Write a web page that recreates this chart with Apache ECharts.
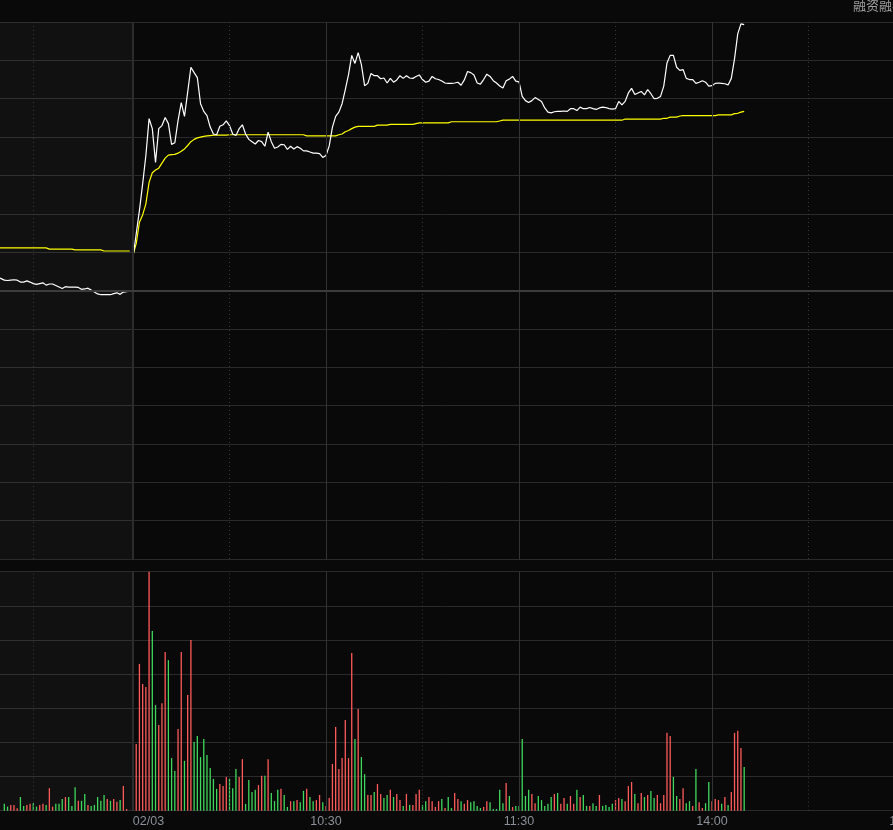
<!DOCTYPE html>
<html><head><meta charset="utf-8">
<script src="https://cdn.jsdelivr.net/npm/echarts@6/dist/echarts.min.js"></script>
<style>html,body{margin:0;padding:0;background:#0a0a0a;}#c{width:893px;height:830px;}</style>
</head><body><div id="c"></div>
<script>
// ---- data (price in % vs previous close, volume in arbitrary lots) ----
const prevPrice = [0.35,0.31,0.27,0.26,0.27,0.28,0.27,0.22,0.22,0.25,0.22,0.18,0.16,0.18,0.20,0.14,0.17,0.17,0.13,0.09,0.05,0.10,0.09,0.09,0.09,0.08,0.03,0.04,0.06,0.01,-0.04,-0.09,-0.11,-0.11,-0.11,-0.11,-0.08,-0.06,-0.10,-0.04,-0.03,-0.01];
const prevAvg = [1.11,1.11,1.11,1.11,1.11,1.11,1.11,1.11,1.11,1.11,1.11,1.11,1.11,1.11,1.11,1.11,1.08,1.08,1.08,1.08,1.08,1.08,1.08,1.08,1.06,1.06,1.06,1.06,1.06,1.06,1.06,1.06,1.06,1.03,1.03,1.03,1.03,1.03,1.03,1.03,1.03,1.03];
const prevVol = [0,0,20,12,17,17,7,40,14,17,20,22,12,17,20,17,66,12,20,20,34,40,40,14,69,29,29,49,17,14,17,40,29,46,34,29,34,26,31,72,5,0];
const prevDir = '..ggrrrggrrggrrgrrgggrgggrggrgggggrgrrgrr.';

const todayPrice = [
0.87,1.48,2.09,2.78,3.52,4.48,4.22,3.34,4.22,4.30,
4.51,4.35,3.81,3.85,4.43,4.90,4.54,5.17,5.82,5.68,
5.55,4.87,4.67,4.56,4.26,4.08,4.06,4.28,4.32,4.42,
4.30,4.08,4.04,4.22,4.32,4.08,3.94,3.88,3.82,3.91,
3.88,3.76,4.13,3.88,3.71,3.74,3.81,3.80,3.68,3.76,
3.69,3.75,3.71,3.64,3.64,3.61,3.58,3.58,3.57,3.47,
3.52,3.77,4.26,4.54,4.65,4.87,5.24,5.63,6.13,5.92,
6.20,5.89,5.34,5.40,5.66,5.60,5.60,5.52,5.54,5.41,
5.53,5.43,5.49,5.60,5.53,5.60,5.54,5.53,5.58,5.62,
5.50,5.43,5.46,5.58,5.52,5.50,5.46,5.41,5.40,5.40,
5.41,5.43,5.35,5.49,5.71,5.68,5.62,5.41,5.38,5.50,
5.64,5.58,5.47,5.41,5.33,5.28,5.47,5.51,5.58,5.46,
5.44,5.06,4.95,4.90,4.95,5.03,4.98,4.93,4.76,4.65,
4.63,4.66,4.67,4.67,4.68,4.67,4.74,4.74,4.69,4.78,
4.74,4.74,4.77,4.74,4.72,4.76,4.78,4.77,4.74,4.73,
4.74,4.93,4.84,4.93,5.15,5.27,5.11,5.15,5.19,5.10,
5.24,5.13,5.00,5.01,5.06,5.33,5.93,6.13,6.13,5.82,
5.74,5.76,5.53,5.50,5.50,5.40,5.43,5.47,5.43,5.33,
5.34,5.40,5.41,5.40,5.39,5.36,5.53,6.04,6.69,6.95,
6.93];
const todayAvg = [
0.93,1.22,1.78,1.97,2.26,2.82,3.07,3.14,3.19,3.32,
3.45,3.53,3.54,3.55,3.58,3.63,3.69,3.78,3.88,3.94,
3.98,4.00,4.02,4.03,4.04,4.05,4.05,4.05,4.05,4.05,
4.06,4.06,4.06,4.06,4.06,4.06,4.06,4.06,4.06,4.06,
4.06,4.06,4.06,4.06,4.06,4.06,4.06,4.06,4.06,4.06,
4.06,4.06,4.06,4.06,4.03,4.03,4.03,4.03,4.03,4.03,
4.03,4.03,4.03,4.03,4.06,4.08,4.14,4.17,4.22,4.26,
4.28,4.28,4.28,4.28,4.28,4.28,4.31,4.31,4.31,4.31,
4.33,4.33,4.33,4.33,4.33,4.33,4.33,4.33,4.35,4.37,
4.37,4.37,4.37,4.37,4.37,4.37,4.37,4.37,4.37,4.40,
4.40,4.40,4.40,4.40,4.40,4.40,4.40,4.40,4.40,4.40,
4.40,4.40,4.40,4.40,4.42,4.44,4.44,4.44,4.44,4.44,
4.44,4.44,4.44,4.44,4.44,4.44,4.44,4.44,4.44,4.44,
4.44,4.44,4.44,4.44,4.44,4.44,4.44,4.44,4.44,4.44,
4.44,4.44,4.44,4.44,4.44,4.44,4.44,4.44,4.44,4.44,
4.44,4.44,4.44,4.47,4.47,4.47,4.47,4.47,4.47,4.47,
4.47,4.47,4.47,4.47,4.47,4.49,4.49,4.52,4.52,4.52,
4.55,4.56,4.56,4.56,4.56,4.56,4.56,4.56,4.56,4.56,
4.56,4.56,4.58,4.58,4.58,4.58,4.58,4.61,4.62,4.65,
4.67];
const todayVol = [
43,195,430,371,362,700,526,309,251,315,
465,441,154,116,239,465,146,339,500,201,
219,157,210,163,125,93,64,78,72,99,
93,66,122,99,151,20,90,55,61,75,
102,102,151,52,28,61,64,46,11,28,
28,31,25,58,64,40,28,31,46,25,
14,37,137,245,122,154,266,154,462,210,
298,157,107,46,46,55,78,49,37,46,
61,40,49,31,14,49,17,17,49,61,
17,28,40,28,11,28,34,8,40,8,
52,34,28,20,31,25,28,14,8,11,
28,25,5,5,61,22,81,43,11,14,
14,210,43,61,49,22,43,31,14,20,
40,49,52,20,37,20,43,20,61,40,
46,14,14,22,14,46,14,17,11,20,
31,37,34,28,72,84,49,22,52,40,
46,58,37,46,22,46,228,219,99,43,
34,66,22,28,14,122,25,8,22,84,
28,34,31,20,40,17,55,228,234,184,
128];
const todayDir =
'rrrrrrggrr' + 'rgggrrgrrg' + 'gggggggrrr' + 'gggrrggggr' + 'rgrgggrggr' +
'grggrggrrg' + 'rrrrrrrrrg' + 'rggrrgrrgg' + 'rgrrgrgrrr' + 'ggrrrrgrgg' +
'rrgrrggggr' + 'rgggggrgrg' + 'ggggrrgggg' + 'grgrrgrrgr' + 'ggrggrgggg' +
'rrgrrrgrrg' + 'rggrrrrrgg' + 'rrggrgrrgg' + 'rrrgrgrrrr' + 'g';

// tick labels on the time axis
const tickTimes  = ['09:30', '10:30', '11:30', '14:00', '15:00'];
const tickLabels = ['02/03', '10:30', '11:30', '14:00', '15:00'];
const solidTimes  = ['09:30', '10:30', '11:30', '14:00', '15:00'];
const dottedTimes = ['02/02 14:30', '10:00', '11:00', '13:30', '14:30'];

// ---- category axis: last minutes of previous session + full today session ----
function hm(t){ const h = Math.floor(t/60), m = t%60; return (h<10?'0':'')+h+':'+(m<10?'0':'')+m; }
const cats = [];
for (let t = 15*60 - prevPrice.length + 1; t <= 15*60; t++) cats.push('02/02 ' + hm(t));
for (let t = 9*60+30; t <= 11*60+30; t++) cats.push(hm(t));
for (let t = 13*60+1; t <= 15*60; t++) cats.push(hm(t));
const N = cats.length, P = prevPrice.length;
const pad = n => Array(n).fill('-');

const sPrevPrice = prevPrice.concat(pad(N - P));
const sPrevAvg   = prevAvg.concat(pad(N - P));
const sTodayPrice = pad(P).concat(todayPrice, pad(N - P - todayPrice.length));
const sTodayAvg   = pad(P).concat(todayAvg, pad(N - P - todayAvg.length));
const vol = prevVol.concat(todayVol, pad(N - P - todayVol.length));
const dir = (prevDir + todayDir).split('');

const RED = '#ff5a5a', GREEN = '#3fd85c';
const minutePx = 3.2167;
const gridLeft = 133 - (P + 0.5) * minutePx;
const gridWidth = N * minutePx;

const labelMap = {};
tickTimes.forEach((t, i) => labelMap[t] = tickLabels[i]);

const vLines = solidTimes.map(t => ({xAxis: t, lineStyle: {color: t === '09:30' ? '#2c2c2c' : '#333', width: t === '09:30' ? 2 : 1, type: 'solid'}}))
  .concat(dottedTimes.map(t => ({xAxis: t, lineStyle: {color: '#3a3a3a', width: 1, type: [1, 3]}})));
const prevArea = [[{xAxis: cats[0]}, {xAxis: '09:30'}]];

const axisBase = {type: 'category', data: cats, boundaryGap: true, axisLine: {show: false}, axisTick: {show: false}, splitLine: {show: false}};
const yBase = {axisLine: {show: false}, axisTick: {show: false}, axisLabel: {show: false}, splitLine: {show: true, lineStyle: {color: '#2a2a2a', width: 1}}};

const chart = echarts.init(document.getElementById('c'), null, {renderer: 'canvas'});
chart.setOption({
  backgroundColor: '#090909',
  animation: false,
  title: {text: '融资融券', left: 853, top: -1, padding: 0, textStyle: {color: '#a0a0a0', fontSize: 13, fontWeight: 'normal', fontFamily: 'Noto Sans CJK SC'}},
  grid: [
    {left: gridLeft, width: gridWidth, top: 22, height: 537, containLabel: false, outerBoundsMode: 'none'},
    {left: gridLeft, width: gridWidth, top: 571.7, height: 239, containLabel: false, outerBoundsMode: 'none'}
  ],
  xAxis: [
    Object.assign({gridIndex: 0, axisLabel: {show: false}}, axisBase),
    Object.assign({gridIndex: 1, axisLabel: {
      show: true, margin: 4, color: '#8a8f98', fontSize: 12.5, fontFamily: 'Liberation Sans, Arial, sans-serif',
      hideOverlap: false,
      interval: (idx, val) => labelMap[val] !== undefined,
      formatter: val => val === '09:30' ? '{a|' + labelMap[val] + '}' : labelMap[val],
      rich: {a: {padding: [0, 0, 0, 31], color: '#8a8f98', fontSize: 12.5, fontFamily: 'Liberation Sans, Arial, sans-serif'}}
    }}, axisBase)
  ],
  yAxis: [
    Object.assign({gridIndex: 0, type: 'value', min: -7, max: 7, interval: 1}, yBase),
    Object.assign({gridIndex: 1, type: 'value', min: 0, max: 700, interval: 100}, yBase)
  ],
  series: [
    {type: 'line', xAxisIndex: 0, yAxisIndex: 0, data: [], z: 1, silent: true,
      markArea: {silent: true, itemStyle: {color: 'rgba(255,255,255,0.035)'}, data: prevArea},
      markLine: {silent: true, symbol: 'none', label: {show: false}, animation: false,
        data: vLines.concat([{yAxis: 0, lineStyle: {color: '#3c3c3c', width: 2, type: 'solid'}}])}},
    {type: 'line', xAxisIndex: 1, yAxisIndex: 1, data: [], z: 1, silent: true,
      markArea: {silent: true, itemStyle: {color: 'rgba(255,255,255,0.035)'}, data: prevArea},
      markLine: {silent: true, symbol: 'none', label: {show: false}, animation: false, data: vLines}},
    {name: 'avgPrev', type: 'line', xAxisIndex: 0, yAxisIndex: 0, data: sPrevAvg, showSymbol: false, symbol: 'none', lineStyle: {color: '#ffff00', width: 1.2}, z: 3},
    {name: 'avgToday', type: 'line', xAxisIndex: 0, yAxisIndex: 0, data: sTodayAvg, showSymbol: false, symbol: 'none', lineStyle: {color: '#ffff00', width: 1.2}, z: 3},
    {name: 'pricePrev', type: 'line', xAxisIndex: 0, yAxisIndex: 0, data: sPrevPrice, showSymbol: false, symbol: 'none', lineStyle: {color: '#ffffff', width: 1.2}, z: 4},
    {name: 'priceToday', type: 'line', xAxisIndex: 0, yAxisIndex: 0, data: sTodayPrice, showSymbol: false, symbol: 'none', lineStyle: {color: '#ffffff', width: 1.2}, z: 4},
    {name: 'vol', type: 'bar', xAxisIndex: 1, yAxisIndex: 1, data: vol, barWidth: 1.3, z: 3,
      itemStyle: {color: p => dir[p.dataIndex] === 'r' ? RED : GREEN}}
  ]
});
</script></body></html>
